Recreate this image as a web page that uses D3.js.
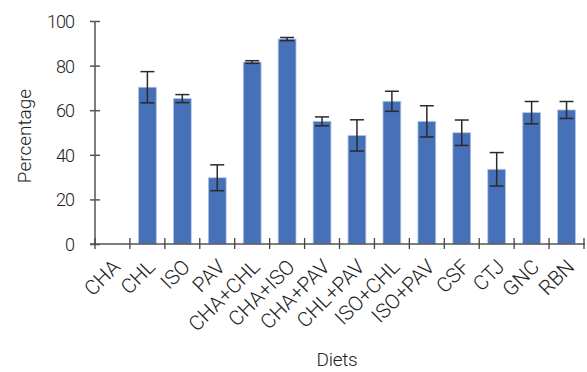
<!DOCTYPE html>
<html>
<head>
<meta charset="utf-8">
<script src="https://cdn.jsdelivr.net/npm/d3@7"></script>
<style>
    body { margin: 0; background: #fff; }
    svg text { font-family: Roboto, "Liberation Sans", sans-serif; font-weight: 300; fill: #222; }
</style>
</head>
<body>
<svg id="chart" width="587" height="372"></svg>
<script>

const diets = ["CHA", "CHL", "ISO", "PAV", "CHA+CHL", "CHA+ISO", "CHA+PAV", "CHL+PAV",
    "ISO+CHL", "ISO+PAV", "CSF", "CTJ", "GNC", "RBN"];
const percentage = [0, 70.3, 65.2, 29.7, 81.6, 91.9, 55.0, 48.7, 64.0, 55.0, 49.9, 33.5, 58.9, 60.1];
const errors = [0, 7, 1.8, 5.8, 0.6, 0.7, 2, 7, 4.5, 7, 5.7, 7.5, 5, 3.8];
const yTicks = [0, 20, 40, 60, 80, 100];


let svg = d3.select("#chart");

let x = d3.scaleBand().domain(diets).range([95, 584]).paddingInner(0).paddingOuter(0);
let y = d3.scaleLinear().domain([0, 100]).range([244, 21]);

let barW = x.bandwidth() * 0.51;

// bars
svg.append("g").selectAll("rect")
    .data(diets)
    .enter()
    .append("rect")
    .attr("x", d => x(d) + (x.bandwidth() - barW) / 2)
    .attr("y", (d, i) => y(percentage[i]))
    .attr("width", barW)
    .attr("height", (d, i) => y(0) - y(percentage[i]))
    .attr("fill", "#4670b8")
    .attr("stroke", "#b4c5e4")
    .attr("stroke-width", 0.8);

// error bars
let err = svg.append("g").attr("stroke", "#2a2a2a").attr("stroke-width", 1.5);
diets.forEach((d, i) => {
    if (errors[i] === 0) return;
    let cx = x(d) + x.bandwidth() / 2;
    let top = y(percentage[i] + errors[i]);
    let bot = y(percentage[i] - errors[i]);
    err.append("line").attr("x1", cx).attr("x2", cx).attr("y1", top).attr("y2", bot);
    err.append("line").attr("x1", cx - 7).attr("x2", cx + 7).attr("y1", top).attr("y2", top);
    err.append("line").attr("x1", cx - 7).attr("x2", cx + 7).attr("y1", bot).attr("y2", bot);
});

// y axis
let yAxis = svg.append("g").attr("transform", "translate(95,0)")
    .call(d3.axisLeft(y).tickValues(yTicks).tickSize(5).tickSizeOuter(0));
yAxis.select(".domain").attr("stroke", "#555").attr("stroke-width", 1.5).attr("d", "M0," + y(100) + "V" + y(0));
yAxis.selectAll(".tick line").attr("stroke", "#555").attr("stroke-width", 1.5).attr("x1", 5).attr("x2", -5);
yAxis.selectAll(".tick text").attr("x", -21).attr("dy", "0.36em").attr("font-size", 18)
    .attr("letter-spacing", -1).style("fill", "#222");

// x axis, ticks on band edges
let edges = diets.map(d => x(d)).concat([x.range()[1]]);
let xAxis = svg.append("g");
xAxis.append("line").attr("x1", 90).attr("x2", 585).attr("y1", y(0)).attr("y2", y(0))
    .attr("stroke", "#555").attr("stroke-width", 1.5);
xAxis.selectAll(".xt").data(edges).enter().append("line")
    .attr("x1", d => d).attr("x2", d => d)
    .attr("y1", y(0) - 6).attr("y2", y(0) + 5)
    .attr("stroke", "#444").attr("stroke-width", 1.3);

xAxis.selectAll(".lab").data(diets).enter().append("text")
    .attr("text-anchor", "end")
    .attr("font-size", 20.5)
    .attr("transform", d => "translate(" + (x(d) + x.bandwidth() / 2 + 4) + "," + (y(0) + 19) + ") rotate(-45)")
    .attr("dy", "0.35em")
    .text(d => d);

// axis titles
svg.append("text").attr("x", 337).attr("y", 366).attr("text-anchor", "middle")
    .attr("font-size", 19).attr("letter-spacing", -0.3).text("Diets");
svg.append("text").attr("transform", "translate(31,136) rotate(-90)").attr("text-anchor", "middle")
    .attr("font-size", 19).text("Percentage");

</script>
</body>
</html>
